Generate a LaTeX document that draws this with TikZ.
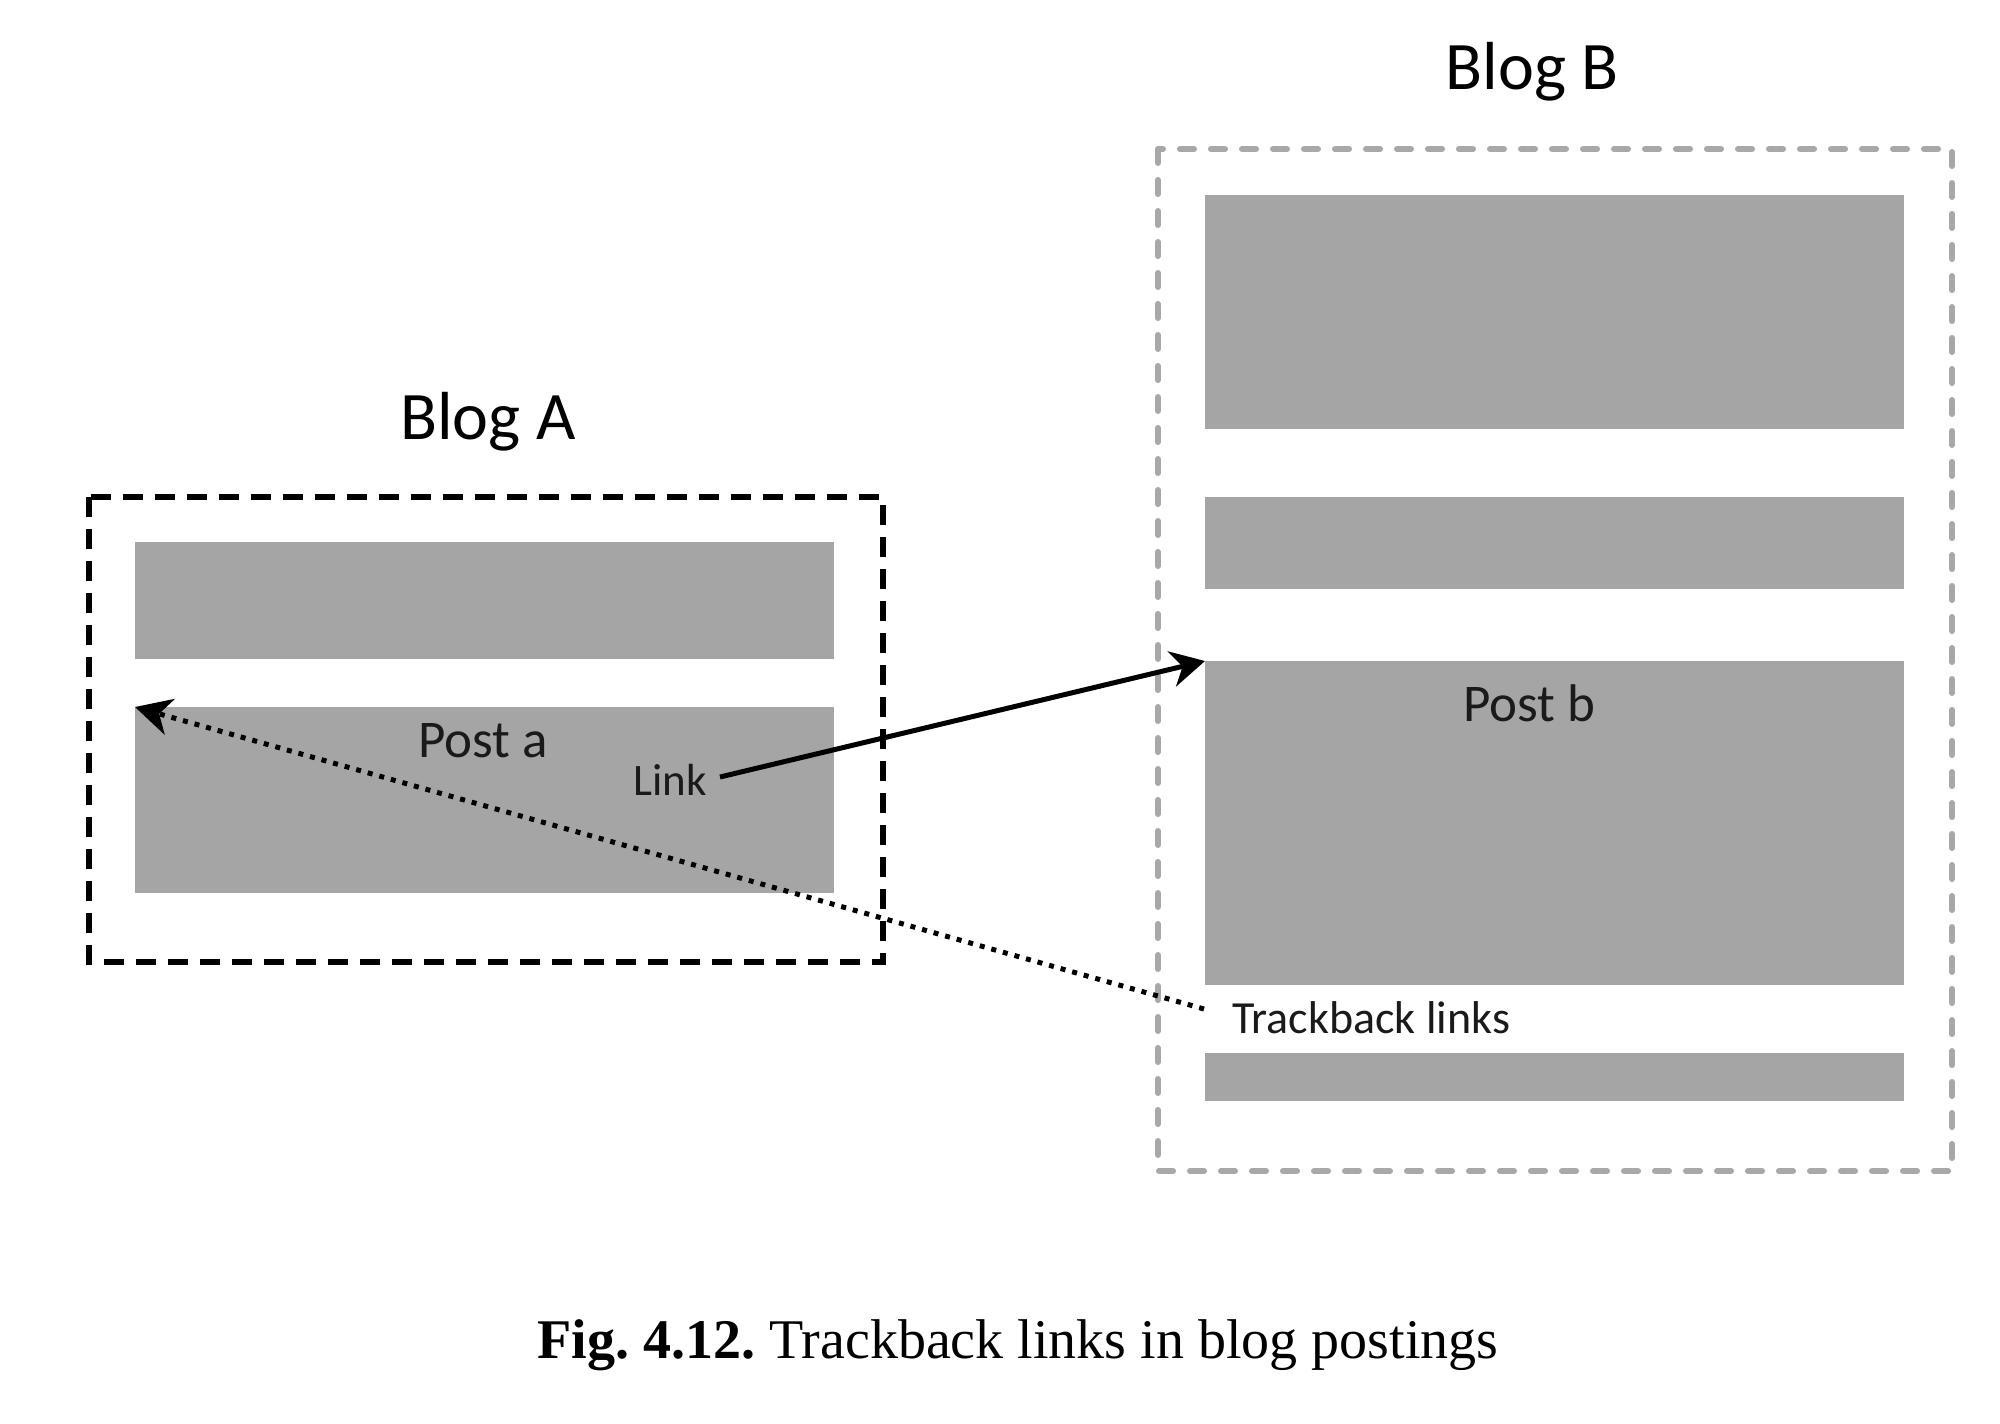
\documentclass[tikz,border=0pt]{standalone}
\usepackage{fontspec}
\setmainfont{Carlito}
\newfontfamily\capfont{Liberation Serif}
\usetikzlibrary{arrows.meta}
\definecolor{postgray}{HTML}{A5A5A5}
\definecolor{boxgray}{HTML}{A8A8A8}
\definecolor{txt}{HTML}{1A1A1A}
\begin{document}
\frenchspacing
\begin{tikzpicture}[x=1pt,y=-1pt,
  post/.style={fill=postgray, draw=none, inner sep=0pt, anchor=north west, minimum width=699pt},
  blogAbox/.style={draw=black, line width=6pt, dash pattern=on 20pt off 12pt},
  blogBbox/.style={draw=boxgray, line width=6pt, line cap=round, dash pattern=on 14pt off 17pt},
  title/.style={anchor=base, inner sep=0pt, text=black, font=\fontsize{68}{80}\selectfont},
  postlbl/.style={anchor=base, inner sep=0pt, text=txt, font=\fontsize{53}{62}\selectfont},
  small/.style={anchor=base west, inner sep=0pt, text=txt, font=\fontsize{45}{54}\selectfont},
  linkarrow/.style={draw=black, line width=5pt, -{Stealth[length=34pt, width=36pt, inset=11pt]}},
  trackarrow/.style={draw=black, line width=5pt, dash pattern=on 5pt off 7pt, -{Stealth[length=36pt, width=37pt, inset=11pt]}}
]
\useasboundingbox (0,0) rectangle (2000,1424);
\fill[white] (0,0) rectangle (2000,1424);

% Blog A
\node[title] (blogA) at (488,439) {Blog A};
\node[post, minimum height=117pt] (a1) at (135,542) {};
\node[post, minimum height=186pt] (a2) at (135,707) {};
\draw[blogAbox] (89,497) rectangle (883,962);
\node[postlbl] (posta) at (483,757) {Post a};
\node[small] (link) at (633,795) {Link};

% Blog B
\node[title] (blogB) at (1532,89) {Blog B};
\node[post, minimum height=234pt] (b1) at (1205,195) {};
\node[post, minimum height=92pt] (b2) at (1205,497) {};
\node[post, minimum height=324pt] (b3) at (1205,661) {};
\node[post, minimum height=48pt] (b4) at (1205,1053) {};
\draw[blogBbox] (1158,149) rectangle (1952,1171);
\node[postlbl] (postb) at (1529,721) {Post b};
\node[small, font=\fontsize{46}{55}\selectfont] (track) at (1232,1033) {Trackback links};

% connectors
\coordinate (linkstart) at (720,777);
\coordinate (trackstart) at (1204,1009);
\draw[linkarrow] (linkstart) -- (b3.north west);
\draw[trackarrow] (trackstart) -- (a2.north west);

% caption
\node[anchor=base, inner sep=0pt, font=\capfont\fontsize{56}{66}\selectfont] (caption) at (1018,1358)
  {\textbf{Fig. 4.12.} Trackback links in blog postings};
\end{tikzpicture}
\end{document}
